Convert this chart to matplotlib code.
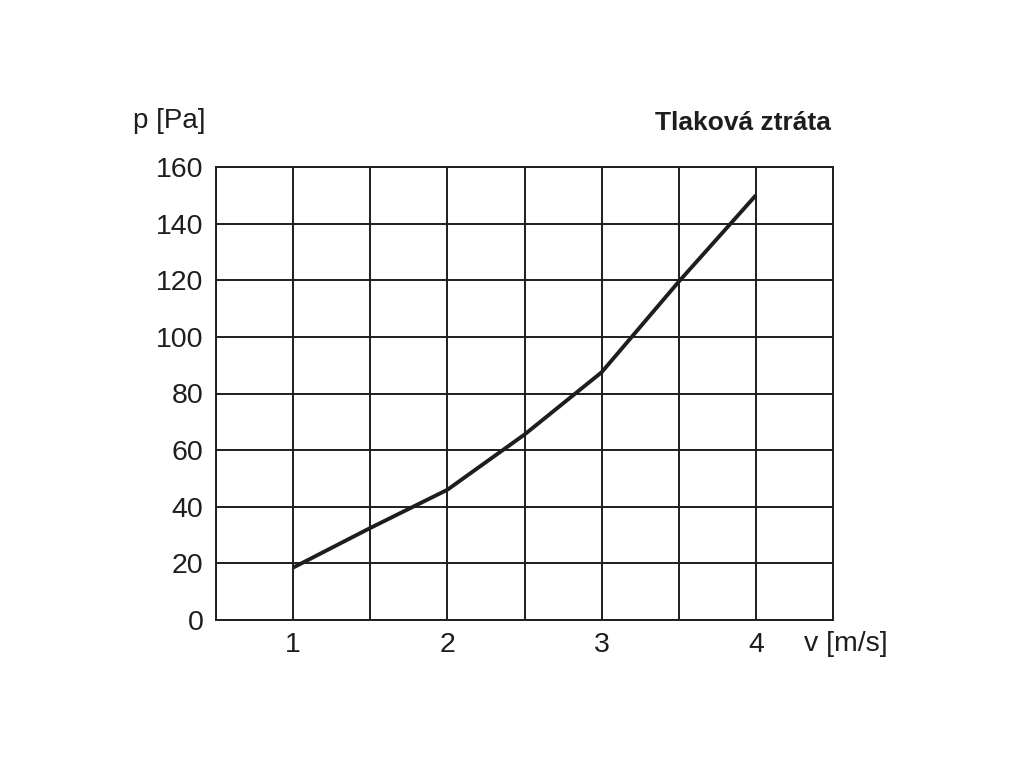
import matplotlib.pyplot as plt
import numpy as np

# --- data ---
velocity = [1, 1.5, 2, 2.5, 3, 3.5, 4]
pressure = [18.5, 32.5, 46, 65.5, 87.5, 119.5, 150]
x_ticks = [1, 2, 3, 4]
y_ticks = [0, 20, 40, 60, 80, 100, 120, 140, 160]

plt.rcParams['font.family'] = ['Liberation Sans', 'DejaVu Sans']
ink = '#1e1e1e'

fig = plt.figure(figsize=(10.24, 7.68), dpi=100)
ax = fig.add_axes([216 / 1024, 1 - 620 / 768, (833 - 216) / 1024, (620 - 167) / 768])

ax.set_xlim(0.5, 4.5)
ax.set_ylim(0, 160)

# grid every 0.5 m/s and 20 Pa
for gx in np.arange(0.5, 4.51, 0.5):
    ax.axvline(gx, color=ink, lw=1.4, zorder=1)
for gy in y_ticks:
    ax.axhline(gy, color=ink, lw=1.4, zorder=1)

ax.plot(velocity, pressure, color=ink, lw=2.8, zorder=3, solid_capstyle='butt')

ax.set_xticks(x_ticks)
ax.set_yticks(y_ticks)
ax.tick_params(length=0, labelsize=20.5, labelcolor=ink)
ax.tick_params(axis='y', pad=9)
ax.tick_params(axis='x', pad=9)
for s in ax.spines.values():
    s.set_color(ink)
    s.set_linewidth(1.4)

fig.text(133 / 1024, 1 - 128 / 768, 'p [Pa]', fontsize=20, color=ink)
fig.text(831 / 1024, 1 - 130 / 768, 'Tlaková ztráta', fontsize=19,
         fontweight='bold', color=ink, ha='right')
fig.text(804 / 1024, 1 - 651 / 768, 'v [m/s]', fontsize=20.5, color=ink)

fig.savefig('out.png', dpi=100)
